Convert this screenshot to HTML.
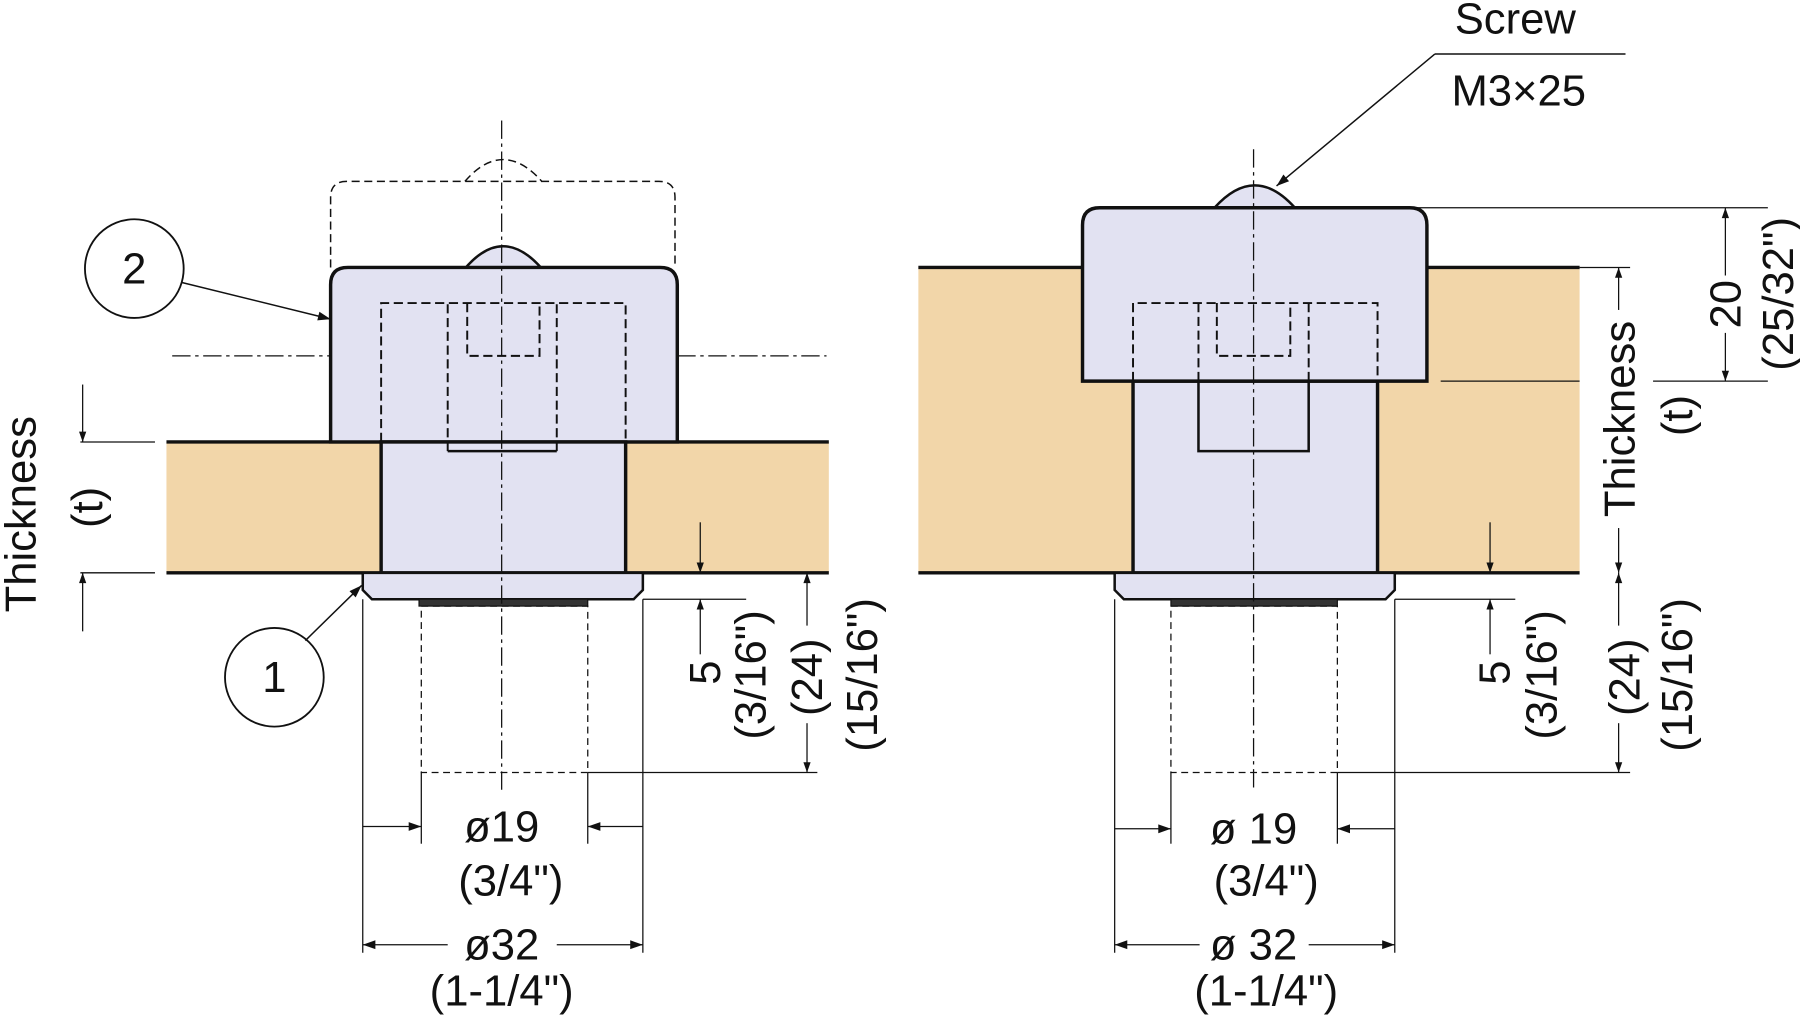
<!DOCTYPE html>
<html><head><meta charset="utf-8"><style>
html,body{margin:0;padding:0;background:#fff;width:1800px;height:1019px;overflow:hidden}
svg{display:block}
text{font-family:"Liberation Sans",sans-serif;fill:#111}
</style></head><body>
<svg width="1800" height="1019" viewBox="0 0 1568 887.7" preserveAspectRatio="none" xmlns="http://www.w3.org/2000/svg">
<defs>
<marker id="a" viewBox="0 0 10 10" refX="10" refY="5" markerWidth="12" markerHeight="9" orient="auto-start-reverse" markerUnits="userSpaceOnUse"><path d="M0,1.5 L10,5 L0,8.5z" fill="#111"/></marker>
<marker id="b" viewBox="0 0 10 10" refX="10" refY="5" markerWidth="24" markerHeight="11" orient="auto-start-reverse" markerUnits="userSpaceOnUse"><path d="M0,1.5 L10,5 L0,8.5z" fill="#111"/></marker>
</defs>
<g stroke="#111" fill="none">
<rect x="145" y="385" width="187" height="114" fill="#f2d6a9" stroke="none"/>
<rect x="545" y="385" width="177" height="114" fill="#f2d6a9" stroke="none"/>
<line x1="145" y1="385" x2="722" y2="385" stroke-width="3"/>
<line x1="145" y1="499" x2="722" y2="499" stroke-width="3"/>
<path d="M288,233 V172 Q288,158 302,158 H574 Q588,158 588,172 V233" stroke-dasharray="7,4" stroke-width="1.3"/>
<path d="M405,158 Q438,120 472,158" stroke-dasharray="7,4" stroke-width="1.3"/>
<path d="M405,234 Q438,195 472,234z" fill="#e2e2f2" stroke-width="2.2"/>
<path d="M288,385 V248 Q288,233 303,233 H575 Q590,233 590,248 V385z" fill="#e2e2f2" stroke-width="3"/>
<rect x="332" y="385" width="213" height="114" fill="#e2e2f2" stroke-width="3"/>
<path d="M316,499 H560 V514 L552,522 H324 L316,514z" fill="#e2e2f2" stroke-width="2.2"/>
<rect x="365" y="522" width="147" height="6" fill="#333" stroke-width="1"/>
<g stroke-dasharray="8,4" stroke-width="1.7">
<path d="M332,385 V264 H545 V385"/>
<path d="M390,393 V264 M485,393 V264"/>
<path d="M407,264 V310 H470 V264"/>
<rect x="367" y="528" width="145" height="145" stroke-dasharray="6,4" stroke-width="1.1"/>
</g>
<line x1="390" y1="393" x2="485" y2="393" stroke-width="2.2"/>
<line x1="437" y1="105" x2="437" y2="690" stroke-dasharray="16,4,3,4" stroke-width="1.1"/>
<line x1="150" y1="310" x2="288" y2="310" stroke-dasharray="16,4,3,4" stroke-width="1.1"/>
<line x1="590" y1="310" x2="720" y2="310" stroke-dasharray="16,4,3,4" stroke-width="1.1"/>
<circle cx="117" cy="234" r="43" stroke-width="1.6"/>
<circle cx="239" cy="590" r="43" stroke-width="1.6"/>
<line x1="158" y1="246" x2="288" y2="278" stroke-width="1.3" marker-end="url(#b)"/>
<line x1="266" y1="558" x2="315" y2="510" stroke-width="1.3" marker-end="url(#b)"/>
<line x1="70" y1="385" x2="135" y2="385" stroke-width="1.1"/>
<line x1="70" y1="499" x2="135" y2="499" stroke-width="1.1"/>
<line x1="72" y1="335" x2="72" y2="385" stroke-width="1.1" marker-end="url(#a)"/>
<line x1="72" y1="550" x2="72" y2="499" stroke-width="1.1" marker-end="url(#a)"/>
<line x1="560" y1="522" x2="650" y2="522" stroke-width="1.1"/>
<line x1="512" y1="673" x2="712" y2="673" stroke-width="1.1"/>
<line x1="610" y1="455" x2="610" y2="499" stroke-width="1.1" marker-end="url(#a)"/>
<line x1="610" y1="570" x2="610" y2="522" stroke-width="1.1" marker-end="url(#a)"/>
<line x1="703" y1="545" x2="703" y2="499" stroke-width="1.1" marker-end="url(#a)"/>
<line x1="703" y1="630" x2="703" y2="673" stroke-width="1.1" marker-end="url(#a)"/>
<line x1="316" y1="522" x2="316" y2="830" stroke-width="1.1"/>
<line x1="560" y1="522" x2="560" y2="830" stroke-width="1.1"/>
<line x1="367" y1="673" x2="367" y2="735" stroke-width="1.1"/>
<line x1="512" y1="673" x2="512" y2="735" stroke-width="1.1"/>
<line x1="316" y1="720" x2="367" y2="720" stroke-width="1.1" marker-end="url(#b)"/>
<line x1="560" y1="720" x2="512" y2="720" stroke-width="1.1" marker-end="url(#b)"/>
<line x1="390" y1="823" x2="316" y2="823" stroke-width="1.1" marker-end="url(#b)"/>
<line x1="485" y1="823" x2="560" y2="823" stroke-width="1.1" marker-end="url(#b)"/>

<rect x="800" y="233" width="187" height="266" fill="#f2d6a9" stroke="none"/>
<rect x="1200" y="233" width="176" height="266" fill="#f2d6a9" stroke="none"/>
<line x1="800" y1="233" x2="943" y2="233" stroke-width="3"/>
<line x1="1243" y1="233" x2="1376" y2="233" stroke-width="3"/>
<line x1="800" y1="499" x2="1376" y2="499" stroke-width="3"/>
<path d="M1058,181 Q1093,142 1128,181z" fill="#e2e2f2" stroke-width="2.2"/>
<rect x="987" y="332" width="213" height="167" fill="#e2e2f2" stroke-width="3"/>
<path d="M943,332 V196 Q943,181 958,181 H1228 Q1243,181 1243,196 V332z" fill="#e2e2f2" stroke-width="3"/>
<rect x="1044" y="332" width="96" height="61" stroke-width="2.2"/>
<path d="M971,499 H1215 V514 L1207,522 H979 L971,514z" fill="#e2e2f2" stroke-width="2.2"/>
<rect x="1020" y="522" width="145" height="6" fill="#333" stroke-width="1"/>
<g stroke-dasharray="8,4" stroke-width="1.7">
<path d="M987,332 V264 H1200 V332"/>
<path d="M1044,332 V264 M1140,332 V264"/>
<path d="M1060,264 V310 H1124 V264"/>
<rect x="1020" y="528" width="145" height="145" stroke-dasharray="6,4" stroke-width="1.1"/>
</g>
<line x1="1092" y1="130" x2="1092" y2="690" stroke-dasharray="16,4,3,4" stroke-width="1.1"/>
<line x1="1255" y1="332" x2="1376" y2="332" stroke-width="1.1"/>
<line x1="1250" y1="47" x2="1416" y2="47" stroke-width="1.3"/>
<line x1="1250" y1="47" x2="1112" y2="162" stroke-width="1.3" marker-end="url(#b)"/>
<line x1="1233" y1="181" x2="1540" y2="181" stroke-width="1.1"/>
<line x1="1440" y1="332" x2="1540" y2="332" stroke-width="1.1"/>
<line x1="1503" y1="240" x2="1503" y2="181" stroke-width="1.1" marker-end="url(#a)"/>
<line x1="1503" y1="290" x2="1503" y2="332" stroke-width="1.1" marker-end="url(#a)"/>
<line x1="1376" y1="233" x2="1420" y2="233" stroke-width="1.1"/>
<line x1="1410" y1="270" x2="1410" y2="233" stroke-width="1.1" marker-end="url(#a)"/>
<line x1="1410" y1="460" x2="1410" y2="499" stroke-width="1.1" marker-end="url(#a)"/>
<line x1="1215" y1="522" x2="1320" y2="522" stroke-width="1.1"/>
<line x1="1165" y1="673" x2="1420" y2="673" stroke-width="1.1"/>
<line x1="1298" y1="455" x2="1298" y2="499" stroke-width="1.1" marker-end="url(#a)"/>
<line x1="1298" y1="570" x2="1298" y2="522" stroke-width="1.1" marker-end="url(#a)"/>
<line x1="1410" y1="545" x2="1410" y2="499" stroke-width="1.1" marker-end="url(#a)"/>
<line x1="1410" y1="630" x2="1410" y2="673" stroke-width="1.1" marker-end="url(#a)"/>
<line x1="971" y1="522" x2="971" y2="830" stroke-width="1.1"/>
<line x1="1215" y1="522" x2="1215" y2="830" stroke-width="1.1"/>
<line x1="1020" y1="673" x2="1020" y2="735" stroke-width="1.1"/>
<line x1="1165" y1="673" x2="1165" y2="735" stroke-width="1.1"/>
<line x1="971" y1="722" x2="1020" y2="722" stroke-width="1.1" marker-end="url(#b)"/>
<line x1="1215" y1="722" x2="1165" y2="722" stroke-width="1.1" marker-end="url(#b)"/>
<line x1="1045" y1="823" x2="971" y2="823" stroke-width="1.1" marker-end="url(#b)"/>
<line x1="1140" y1="823" x2="1215" y2="823" stroke-width="1.1" marker-end="url(#b)"/>
</g>
<g font-size="38">
<text x="117" y="247" text-anchor="middle">2</text>
<text x="239" y="603" text-anchor="middle">1</text>
<text x="437" y="733" text-anchor="middle">ø19</text>
<text x="445" y="780" text-anchor="middle">(3/4")</text>
<text x="437" y="836" text-anchor="middle">ø32</text>
<text x="437" y="876" text-anchor="middle">(1-1/4")</text>
<text x="1092" y="735" text-anchor="middle">ø 19</text>
<text x="1103" y="780" text-anchor="middle">(3/4")</text>
<text x="1092" y="836" text-anchor="middle">ø 32</text>
<text x="1103" y="876" text-anchor="middle">(1-1/4")</text>
<text x="1320" y="29" text-anchor="middle">Screw</text>
<text x="1323" y="92" text-anchor="middle">M3×25</text>
<text transform="translate(31,448) rotate(-90)" text-anchor="middle">Thickness</text>
<text transform="translate(89,442) rotate(-90)" text-anchor="middle">(t)</text>
<text transform="translate(627,586) rotate(-90)" text-anchor="middle">5</text>
<text transform="translate(667,588) rotate(-90)" text-anchor="middle">(3/16")</text>
<text transform="translate(716,590) rotate(-90)" text-anchor="middle">(24)</text>
<text transform="translate(764,588) rotate(-90)" text-anchor="middle">(15/16")</text>
<text transform="translate(1315,586) rotate(-90)" text-anchor="middle">5</text>
<text transform="translate(1356,588) rotate(-90)" text-anchor="middle">(3/16")</text>
<text transform="translate(1428,590) rotate(-90)" text-anchor="middle">(24)</text>
<text transform="translate(1474,588) rotate(-90)" text-anchor="middle">(15/16")</text>
<text transform="translate(1424,365) rotate(-90)" text-anchor="middle">Thickness</text>
<text transform="translate(1474,362) rotate(-90)" text-anchor="middle">(t)</text>
<text transform="translate(1516,265) rotate(-90)" text-anchor="middle">20</text>
<text transform="translate(1562,256) rotate(-90)" text-anchor="middle">(25/32")</text>
</g>
</svg>
</body></html>
